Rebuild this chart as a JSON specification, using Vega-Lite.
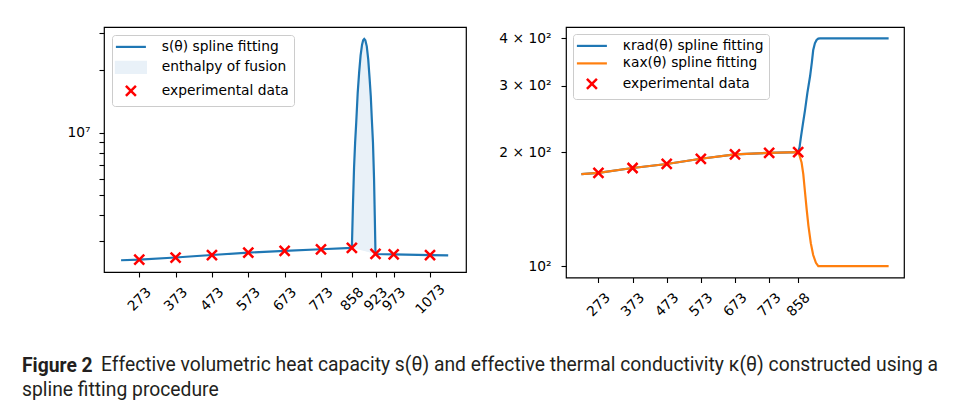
{
  "$schema": "https://vega.github.io/schema/vega-lite/v6.json",
  "background": "white",
  "padding": {"left": 22, "top": 25, "right": 0, "bottom": 0},
  "title": {
    "text": "Figure 2",
    "subtitle": "spline fitting procedure",
    "orient": "bottom",
    "anchor": "start",
    "frame": "group",
    "dx": -82,
    "dy": -22.3,
    "font": "Roboto",
    "fontSize": 19.3,
    "fontWeight": "bold",
    "color": "#231f20",
    "subtitleFont": "Roboto",
    "subtitleFontSize": 19.3,
    "subtitleColor": "#231f20",
    "subtitlePadding": 4
  },
  "spacing": 100,
  "bounds": "flush",
  "resolve": {"scale": {"color": "independent"}, "legend": {"color": "independent"}},
  "datasets": {
    "sLine": [
      {"x": 223, "y": 2435000, "series": "s(θ) spline fitting"},
      {"x": 273, "y": 2450000, "series": "s(θ) spline fitting"},
      {"x": 373, "y": 2510000, "series": "s(θ) spline fitting"},
      {"x": 473, "y": 2580000, "series": "s(θ) spline fitting"},
      {"x": 573, "y": 2650000, "series": "s(θ) spline fitting"},
      {"x": 673, "y": 2700000, "series": "s(θ) spline fitting"},
      {"x": 773, "y": 2750000, "series": "s(θ) spline fitting"},
      {"x": 858, "y": 2790000, "series": "s(θ) spline fitting"},
      {"x": 861, "y": 4500000, "series": "s(θ) spline fitting"},
      {"x": 864, "y": 6800000, "series": "s(θ) spline fitting"},
      {"x": 867, "y": 9000000, "series": "s(θ) spline fitting"},
      {"x": 870, "y": 11200000, "series": "s(θ) spline fitting"},
      {"x": 874, "y": 15500000, "series": "s(θ) spline fitting"},
      {"x": 878, "y": 19500000, "series": "s(θ) spline fitting"},
      {"x": 882, "y": 23500000, "series": "s(θ) spline fitting"},
      {"x": 886, "y": 26500000, "series": "s(θ) spline fitting"},
      {"x": 889, "y": 27800000, "series": "s(θ) spline fitting"},
      {"x": 892, "y": 28200000, "series": "s(θ) spline fitting"},
      {"x": 895, "y": 27800000, "series": "s(θ) spline fitting"},
      {"x": 899, "y": 26000000, "series": "s(θ) spline fitting"},
      {"x": 903, "y": 22500000, "series": "s(θ) spline fitting"},
      {"x": 907, "y": 18000000, "series": "s(θ) spline fitting"},
      {"x": 910, "y": 15000000, "series": "s(θ) spline fitting"},
      {"x": 913, "y": 11500000, "series": "s(θ) spline fitting"},
      {"x": 916, "y": 9000000, "series": "s(θ) spline fitting"},
      {"x": 919, "y": 6000000, "series": "s(θ) spline fitting"},
      {"x": 921, "y": 4000000, "series": "s(θ) spline fitting"},
      {"x": 923, "y": 2610000, "series": "s(θ) spline fitting"},
      {"x": 973, "y": 2600000, "series": "s(θ) spline fitting"},
      {"x": 1073, "y": 2580000, "series": "s(θ) spline fitting"},
      {"x": 1123, "y": 2570000, "series": "s(θ) spline fitting"}
    ],
    "sFill": [
      {"x": 858, "y": 2790000, "base": 2790000, "series": "enthalpy of fusion"},
      {"x": 861, "y": 4500000, "base": 2782000, "series": "enthalpy of fusion"},
      {"x": 864, "y": 6800000, "base": 2773000, "series": "enthalpy of fusion"},
      {"x": 867, "y": 9000000, "base": 2765000, "series": "enthalpy of fusion"},
      {"x": 870, "y": 11200000, "base": 2757000, "series": "enthalpy of fusion"},
      {"x": 874, "y": 15500000, "base": 2746000, "series": "enthalpy of fusion"},
      {"x": 878, "y": 19500000, "base": 2735000, "series": "enthalpy of fusion"},
      {"x": 882, "y": 23500000, "base": 2724000, "series": "enthalpy of fusion"},
      {"x": 886, "y": 26500000, "base": 2712000, "series": "enthalpy of fusion"},
      {"x": 889, "y": 27800000, "base": 2704000, "series": "enthalpy of fusion"},
      {"x": 892, "y": 28200000, "base": 2696000, "series": "enthalpy of fusion"},
      {"x": 895, "y": 27800000, "base": 2688000, "series": "enthalpy of fusion"},
      {"x": 899, "y": 26000000, "base": 2676000, "series": "enthalpy of fusion"},
      {"x": 903, "y": 22500000, "base": 2665000, "series": "enthalpy of fusion"},
      {"x": 907, "y": 18000000, "base": 2654000, "series": "enthalpy of fusion"},
      {"x": 910, "y": 15000000, "base": 2646000, "series": "enthalpy of fusion"},
      {"x": 913, "y": 11500000, "base": 2638000, "series": "enthalpy of fusion"},
      {"x": 916, "y": 9000000, "base": 2629000, "series": "enthalpy of fusion"},
      {"x": 919, "y": 6000000, "base": 2621000, "series": "enthalpy of fusion"},
      {"x": 921, "y": 4000000, "base": 2616000, "series": "enthalpy of fusion"},
      {"x": 923, "y": 2610000, "base": 2610000, "series": "enthalpy of fusion"}
    ],
    "sPts": [
      {"x": 273, "y": 2450000, "series": "experimental data"},
      {"x": 373, "y": 2510000, "series": "experimental data"},
      {"x": 473, "y": 2580000, "series": "experimental data"},
      {"x": 573, "y": 2650000, "series": "experimental data"},
      {"x": 673, "y": 2700000, "series": "experimental data"},
      {"x": 773, "y": 2750000, "series": "experimental data"},
      {"x": 858, "y": 2790000, "series": "experimental data"},
      {"x": 923, "y": 2610000, "series": "experimental data"},
      {"x": 973, "y": 2600000, "series": "experimental data"},
      {"x": 1073, "y": 2580000, "series": "experimental data"}
    ],
    "kLines": [
      {"x": 223, "y": 175, "series": "κrad(θ) spline fitting"},
      {"x": 273, "y": 176.3, "series": "κrad(θ) spline fitting"},
      {"x": 373, "y": 181.7, "series": "κrad(θ) spline fitting"},
      {"x": 473, "y": 186.2, "series": "κrad(θ) spline fitting"},
      {"x": 573, "y": 192.2, "series": "κrad(θ) spline fitting"},
      {"x": 673, "y": 197.4, "series": "κrad(θ) spline fitting"},
      {"x": 773, "y": 199.3, "series": "κrad(θ) spline fitting"},
      {"x": 858, "y": 200.1, "series": "κrad(θ) spline fitting"},
      {"x": 862, "y": 206, "series": "κrad(θ) spline fitting"},
      {"x": 866, "y": 219, "series": "κrad(θ) spline fitting"},
      {"x": 872, "y": 238, "series": "κrad(θ) spline fitting"},
      {"x": 878, "y": 258, "series": "κrad(θ) spline fitting"},
      {"x": 885, "y": 287, "series": "κrad(θ) spline fitting"},
      {"x": 893, "y": 318, "series": "κrad(θ) spline fitting"},
      {"x": 898, "y": 345, "series": "κrad(θ) spline fitting"},
      {"x": 902, "y": 372, "series": "κrad(θ) spline fitting"},
      {"x": 907, "y": 388, "series": "κrad(θ) spline fitting"},
      {"x": 912, "y": 396, "series": "κrad(θ) spline fitting"},
      {"x": 917, "y": 399.5, "series": "κrad(θ) spline fitting"},
      {"x": 922, "y": 400, "series": "κrad(θ) spline fitting"},
      {"x": 1123, "y": 400, "series": "κrad(θ) spline fitting"},
      {"x": 223, "y": 175, "series": "κax(θ) spline fitting"},
      {"x": 273, "y": 176.3, "series": "κax(θ) spline fitting"},
      {"x": 373, "y": 181.7, "series": "κax(θ) spline fitting"},
      {"x": 473, "y": 186.2, "series": "κax(θ) spline fitting"},
      {"x": 573, "y": 192.2, "series": "κax(θ) spline fitting"},
      {"x": 673, "y": 197.4, "series": "κax(θ) spline fitting"},
      {"x": 773, "y": 199.3, "series": "κax(θ) spline fitting"},
      {"x": 858, "y": 200.1, "series": "κax(θ) spline fitting"},
      {"x": 862, "y": 196, "series": "κax(θ) spline fitting"},
      {"x": 868, "y": 188, "series": "κax(θ) spline fitting"},
      {"x": 873, "y": 175, "series": "κax(θ) spline fitting"},
      {"x": 878, "y": 157, "series": "κax(θ) spline fitting"},
      {"x": 883, "y": 141, "series": "κax(θ) spline fitting"},
      {"x": 888, "y": 128, "series": "κax(θ) spline fitting"},
      {"x": 895, "y": 115, "series": "κax(θ) spline fitting"},
      {"x": 902, "y": 107, "series": "κax(θ) spline fitting"},
      {"x": 910, "y": 102, "series": "κax(θ) spline fitting"},
      {"x": 917, "y": 100, "series": "κax(θ) spline fitting"},
      {"x": 923, "y": 100, "series": "κax(θ) spline fitting"},
      {"x": 1123, "y": 100, "series": "κax(θ) spline fitting"}
    ],
    "kPts": [
      {"x": 273, "y": 176.3, "series": "experimental data"},
      {"x": 373, "y": 181.7, "series": "experimental data"},
      {"x": 473, "y": 186.2, "series": "experimental data"},
      {"x": 573, "y": 192.2, "series": "experimental data"},
      {"x": 673, "y": 197.4, "series": "experimental data"},
      {"x": 773, "y": 199.3, "series": "experimental data"},
      {"x": 858, "y": 200.1, "series": "experimental data"}
    ]
  },
  "hconcat": [
    {
      "width": 362,
      "height": 245,
      "title": {
        "text": "Effective volumetric heat capacity s(θ) and effective thermal conductivity κ(θ) constructed using a",
        "orient": "bottom",
        "anchor": "start",
        "frame": "group",
        "offset": 39.5,
        "dx": -3,
        "font": "Roboto",
        "fontSize": 19.3,
        "fontWeight": "normal",
        "color": "#231f20",
        "limit": 2000
      },
      "encoding": {
        "x": {
          "field": "x",
          "type": "quantitative",
          "scale": {"domain": [176, 1172], "nice": false, "zero": false},
          "axis": {
            "values": [273, 373, 473, 573, 673, 773, 858, 923, 973, 1073],
            "format": "d",
            "labelAngle": -45,
            "labelAlign": "center",
            "labelBaseline": "middle",
            "labelPadding": 22,
            "labelOverlap": false,
            "labelFlush": false,
            "tickSize": 5
          }
        },
        "y": {
          "field": "y",
          "type": "quantitative",
          "scale": {"type": "log", "domain": [2138000, 32210000], "nice": false},
          "axis": {
            "values": [3000000, 4000000, 5000000, 6000000, 7000000, 8000000, 9000000, 10000000, 20000000, 30000000],
            "labelExpr": "datum.value === 10000000 ? '10⁷' : ''",
            "labelOverlap": false,
            "labelPadding": 9,
            "tickSize": 5,
            "encode": {"ticks": {"update": {"x2": {"signal": "datum.value === 10000000 ? -5 : -3"}}}}
          }
        },
        "color": {
          "field": "series",
          "type": "nominal",
          "scale": {
            "domain": ["s(θ) spline fitting", "enthalpy of fusion", "experimental data"],
            "range": ["#1f77b4", "#e9f1f8", "#ff0000"]
          },
          "legend": {
            "encode": {
              "symbols": {
                "update": {
                  "shape": {"signal": "datum.value === 'experimental data' ? 'M-0.625,-0.625L0.625,0.625M0.625,-0.625L-0.625,0.625' : datum.value === 'enthalpy of fusion' ? 'M-1.875,-0.69H1.875V0.69H-1.875Z' : 'M-1.875,0H1.875'"},
                  "fill": {"signal": "datum.value === 'enthalpy of fusion' ? '#e9f1f8' : 'transparent'"},
                  "stroke": {"signal": "datum.value === 'enthalpy of fusion' ? 'transparent' : datum.value === 'experimental data' ? '#ff0000' : '#1f77b4'"},
                  "strokeWidth": {"signal": "datum.value === 'experimental data' ? 2.5 : 2.2"},
                  "opacity": {"value": 1},
                  "fillOpacity": {"value": 1},
                  "strokeOpacity": {"value": 1}
                }
              }
            }
          }
        }
      },
      "layer": [
        {"data": {"name": "sFill"}, "mark": {"type": "area", "opacity": 1}, "encoding": {"y2": {"field": "base"}}},
        {"data": {"name": "sLine"}, "mark": {"type": "line", "strokeWidth": 2.2}},
        {"data": {"name": "sPts"}, "mark": {"type": "point", "shape": "M-1,-1L1,1M1,-1L-1,1", "size": 100, "filled": false, "strokeWidth": 2.5, "opacity": 1}}
      ]
    },
    {
      "width": 338,
      "height": 250.5,
      "encoding": {
        "x": {
          "field": "x",
          "type": "quantitative",
          "scale": {"domain": [178, 1168], "nice": false, "zero": false},
          "axis": {
            "values": [273, 373, 473, 573, 673, 773, 858],
            "format": "d",
            "labelAngle": -45,
            "labelAlign": "center",
            "labelBaseline": "middle",
            "labelPadding": 22,
            "labelOverlap": false,
            "labelFlush": false,
            "tickSize": 5
          }
        },
        "y": {
          "field": "y",
          "type": "quantitative",
          "scale": {"type": "log", "domain": [93.3, 428.6], "nice": false},
          "axis": {
            "values": [100, 200, 300, 400],
            "labelExpr": "datum.value === 100 ? '10²' : datum.value === 200 ? '2 × 10²' : datum.value === 300 ? '3 × 10²' : '4 × 10²'",
            "labelOverlap": false,
            "labelPadding": 10,
            "tickSize": 5,
            "encode": {"ticks": {"update": {"x2": {"signal": "datum.value === 100 ? -5 : -3"}}}}
          }
        },
        "color": {
          "field": "series",
          "type": "nominal",
          "scale": {
            "domain": ["κrad(θ) spline fitting", "κax(θ) spline fitting", "experimental data"],
            "range": ["#1f77b4", "#ff7f0e", "#ff0000"]
          },
          "legend": {
            "offset": 7,
            "encode": {
              "symbols": {
                "update": {
                  "shape": {"signal": "datum.value === 'experimental data' ? 'M-0.625,-0.625L0.625,0.625M0.625,-0.625L-0.625,0.625' : 'M-1.875,0H1.875'"},
                  "fill": {"value": "transparent"},
                  "stroke": {"signal": "datum.value === 'experimental data' ? '#ff0000' : datum.value === 'κax(θ) spline fitting' ? '#ff7f0e' : '#1f77b4'"},
                  "strokeWidth": {"signal": "datum.value === 'experimental data' ? 2.5 : 2.2"},
                  "opacity": {"value": 1},
                  "strokeOpacity": {"value": 1}
                }
              }
            }
          }
        }
      },
      "layer": [
        {"data": {"name": "kLines"}, "mark": {"type": "line", "strokeWidth": 2.2}},
        {"data": {"name": "kPts"}, "mark": {"type": "point", "shape": "M-1,-1L1,1M1,-1L-1,1", "size": 100, "filled": false, "strokeWidth": 2.5, "opacity": 1}}
      ]
    }
  ],
  "config": {
    "font": "DejaVu Sans",
    "view": {"stroke": "black", "strokeWidth": 1.2},
    "axis": {
      "grid": false,
      "domain": false,
      "title": null,
      "labelFont": "DejaVu Sans",
      "labelFontSize": 13.8,
      "labelColor": "black",
      "tickColor": "black",
      "tickWidth": 1.1
    },
    "legend": {
      "orient": "top-left",
      "offset": 8,
      "title": null,
      "padding": 5,
      "symbolSize": 256,
      "symbolOffset": 7,
      "labelOffset": 24,
      "rowPadding": 2.5,
      "strokeColor": "#cccccc",
      "fillColor": "rgba(255,255,255,0.8)",
      "cornerRadius": 3,
      "labelFont": "DejaVu Sans",
      "labelFontSize": 13.8,
      "labelColor": "black",
      "labelLimit": 400
    }
  }
}
